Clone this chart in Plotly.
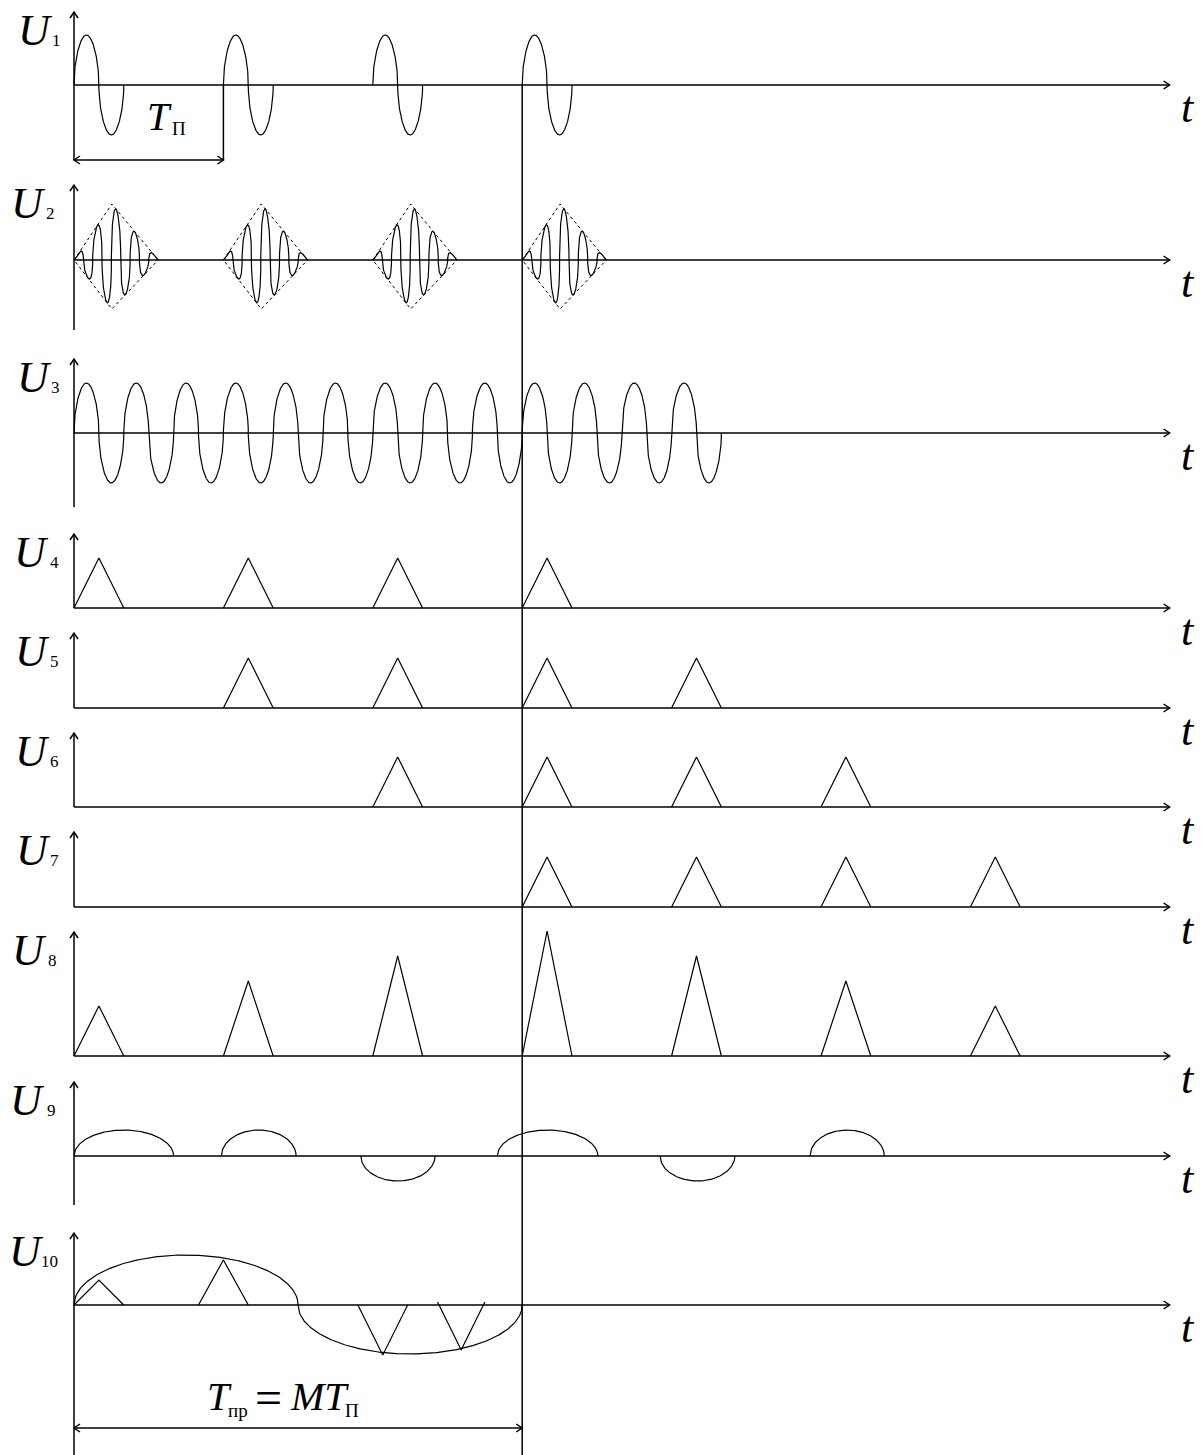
import numpy as np
import plotly.graph_objects as go

# escala: 1 unidad de tiempo = 1 periodo de la portadora
X0, XS = 74, 49.8     # px del eje vertical, px por unidad de tiempo
VS = 50               # px por unidad de amplitud
W, H = 1203, 1455
T_END = 22.0

# datos de las señales (tiempo en periodos de portadora, amplitud relativa)
u1_starts = [0, 3, 6, 9]
u2_starts = [0, 3, 6, 9]
u2_width, u2_peak = 1.69, 0.76
u2_amp_up, u2_amp_down = 1.12, 0.98
u2_cycles = 4.5
u3_cycles = 13
u4_starts = [0, 3, 6, 9]
u5_starts = [3, 6, 9, 12]
u6_starts = [6, 9, 12, 15]
u7_starts = [9, 12, 15, 18]
u8_starts = [0, 3, 6, 9, 12, 15, 18]
u8_heights = [1.0, 1.5, 2.0, 2.5, 2.0, 1.5, 1.0]
u9_start = [0, 2.96, 5.76, 8.5, 11.77, 14.78]
u9_end = [2.0, 4.46, 7.25, 10.52, 13.27, 16.27]
u9_amp = [0.52, 0.52, -0.5, 0.52, -0.5, 0.52]
u10_env_start = [0, 4.5]
u10_env_end = [4.5, 9.0]
u10_env_amp = [1.0, -0.98]
u10_tri_start = [0, 2.5, 5.7, 7.3]
u10_tri_end = [1.0, 3.5, 6.7, 8.25]
u10_tri_amp = [0.5, 0.9, -1.0, -0.9]
u10_tri_edge = [0, 0, 0, 0.06]
T_P = 3      # periodo de repetición
T_PR = 9     # T_пр = M*T_П

# disposición de las filas (px)
baselines = [85, 260, 433, 608, 708, 807, 907, 1056, 1156, 1305]
axis_top = [12, 185, 359, 534, 633, 733, 832, 932, 1082, 1233]
axis_bottom = [160, 330, 507, 608, 708, 807, 907, 1056, 1205, 1455]
label_x = [35, 28, 34, 31, 32, 32, 33, 29, 27, 26]
sub_x = [50, 44, 49, 48, 48, 48, 48, 46, 45, 39]
labels_sub = ["1", "2", "3", "4", "5", "6", "7", "8", "9", "10"]
DIM1_Y = 160
DIM2_Y = 1428


def px2x(px):
    return (px - X0) / XS


def Y(row, amp):
    return baselines[row] - np.asarray(amp, dtype=float) * VS


def wave(t, p=0.5):
    # seno "redondeado", como en el dibujo a mano
    s = np.sin(2 * np.pi * t)
    return np.sign(s) * np.abs(s) ** p


curves_x, curves_y = [], []
axes_x, axes_y = [], []
dash_x, dash_y = [], []


def add(xs, ys, px, py):
    xs.extend(list(px) + [None])
    ys.extend(list(py) + [None])


# ejes con flechas
ahx, ahy = 4 / XS, 6
for r in range(10):
    add(axes_x, axes_y, [0, 0], [axis_top[r], axis_bottom[r]])
    add(axes_x, axes_y, [-ahx, 0, ahx], [axis_top[r] + ahy, axis_top[r], axis_top[r] + ahy])
    add(axes_x, axes_y, [0, T_END], [baselines[r], baselines[r]])
    add(axes_x, axes_y, [T_END - 6 / XS, T_END, T_END - 6 / XS],
        [baselines[r] - 4, baselines[r], baselines[r] + 4])

# U1
for s in u1_starts:
    t = np.linspace(0, 1, 400)
    add(curves_x, curves_y, s + t, Y(0, wave(t)))

# U2: radioimpulsos con envolvente triangular
for s in u2_starts:
    u = np.linspace(0, u2_width, 1200)
    rise = np.where(u < u2_peak, u / u2_peak, (u2_width - u) / (u2_width - u2_peak))
    c = wave(u2_cycles * u / u2_width, 0.4)
    v = np.where(c > 0, u2_amp_up * rise * c, u2_amp_down * rise * c)
    add(curves_x, curves_y, s + u, Y(1, v))
    add(dash_x, dash_y, [s, s + u2_peak, s + u2_width, s + u2_peak, s],
        Y(1, [0, u2_amp_up, 0, -u2_amp_down, 0]))

# U3: portadora continua
t = np.linspace(0, u3_cycles, 5200)
add(curves_x, curves_y, t, Y(2, wave(t)))

# U4..U7: impulsos triangulares
for r, starts in zip([3, 4, 5, 6], [u4_starts, u5_starts, u6_starts, u7_starts]):
    for s in starts:
        add(curves_x, curves_y, [s, s + 0.5, s + 1], Y(r, [0, 1, 0]))

# U8: suma
for s, h in zip(u8_starts, u8_heights):
    add(curves_x, curves_y, [s, s + 0.5, s + 1], Y(7, [0, h, 0]))

# U9: arcos
for a, b, h in zip(u9_start, u9_end, u9_amp):
    t = np.linspace(a, b, 200)
    c, rr = (a + b) / 2, (b - a) / 2
    add(curves_x, curves_y, t, Y(8, h * np.sqrt(np.clip(1 - ((t - c) / rr) ** 2, 0, 1))))

# U10
for a, b, h in zip(u10_env_start, u10_env_end, u10_env_amp):
    t = np.linspace(a, b, 300)
    c, rr = (a + b) / 2, (b - a) / 2
    add(curves_x, curves_y, t, Y(9, h * np.sqrt(np.clip(1 - ((t - c) / rr) ** 2, 0, 1))))
for a, b, h, e in zip(u10_tri_start, u10_tri_end, u10_tri_amp, u10_tri_edge):
    add(curves_x, curves_y, [a, (a + b) / 2, b], Y(9, [e, h, e]))

# cotas
add(axes_x, axes_y, [T_PR, T_PR], [baselines[0], H])
add(axes_x, axes_y, [T_P, T_P], [baselines[0], DIM1_Y])
for y0, t1 in [(DIM1_Y, T_P), (DIM2_Y, T_PR)]:
    add(axes_x, axes_y, [0, t1], [y0, y0])
    add(axes_x, axes_y, [6 / XS, 0, 6 / XS], [y0 - 4, y0, y0 + 4])
    add(axes_x, axes_y, [t1 - 6 / XS, t1, t1 - 6 / XS], [y0 - 4, y0, y0 + 4])

fig = go.Figure()
fig.add_trace(go.Scatter(x=axes_x, y=axes_y, mode='lines',
                         line=dict(color='black', width=1.5), hoverinfo='skip'))
fig.add_trace(go.Scatter(x=curves_x, y=curves_y, mode='lines',
                         line=dict(color='black', width=1.2), hoverinfo='skip'))
fig.add_trace(go.Scatter(x=dash_x, y=dash_y, mode='lines',
                         line=dict(color='black', width=1, dash='3px,3px'), hoverinfo='skip'))

FONT = "Liberation Serif, Times New Roman, serif"
ann = []
for r in range(10):
    yc = axis_top[r] + 18
    ann.append(dict(x=px2x(label_x[r]), y=yc, text="<i>U</i>",
                    font=dict(family=FONT, size=44, color='black')))
    ann.append(dict(x=px2x(sub_x[r]), y=yc + 10, text=labels_sub[r], xanchor='left',
                    font=dict(family=FONT, size=17, color='black')))
    ann.append(dict(x=px2x(1188), y=baselines[r] + 22, text="<i>t</i>",
                    font=dict(family=FONT, size=44, color='black')))

# T_П
ann.append(dict(x=px2x(159), y=116, text="<i>T</i>",
                font=dict(family=FONT, size=40, color='black')))
ann.append(dict(x=px2x(170), y=128, text="П", xanchor='left',
                font=dict(family=FONT, size=19, color='black')))
# T_пр = M T_П
ann.append(dict(x=px2x(205), y=1396, text="<i>T</i>", xanchor='left',
                font=dict(family=FONT, size=40, color='black')))
ann.append(dict(x=px2x(226), y=1410, text="пр", xanchor='left',
                font=dict(family=FONT, size=19, color='black')))
ann.append(dict(x=px2x(253), y=1397, text="=", xanchor='left',
                font=dict(family=FONT, size=48, color='black')))
ann.append(dict(x=px2x(288), y=1396, text="<i>MT</i>", xanchor='left',
                font=dict(family=FONT, size=40, color='black')))
ann.append(dict(x=px2x(343), y=1410, text="П", xanchor='left',
                font=dict(family=FONT, size=19, color='black')))
for a in ann:
    a.update(xref='x', yref='y', showarrow=False)

fig.update_layout(
    width=W, height=H,
    margin=dict(l=0, r=0, t=0, b=0),
    paper_bgcolor='white', plot_bgcolor='white',
    showlegend=False,
    annotations=ann,
    xaxis=dict(range=[px2x(0), px2x(W)], visible=False, fixedrange=True),
    yaxis=dict(range=[H, 0], visible=False, fixedrange=True),
)

# sin margen del <body>, para que la figura ocupe la ventana exacta
fig.write_html("out.html", config={'displayModeBar': False},
               post_script="document.body.style.margin='0px';")
